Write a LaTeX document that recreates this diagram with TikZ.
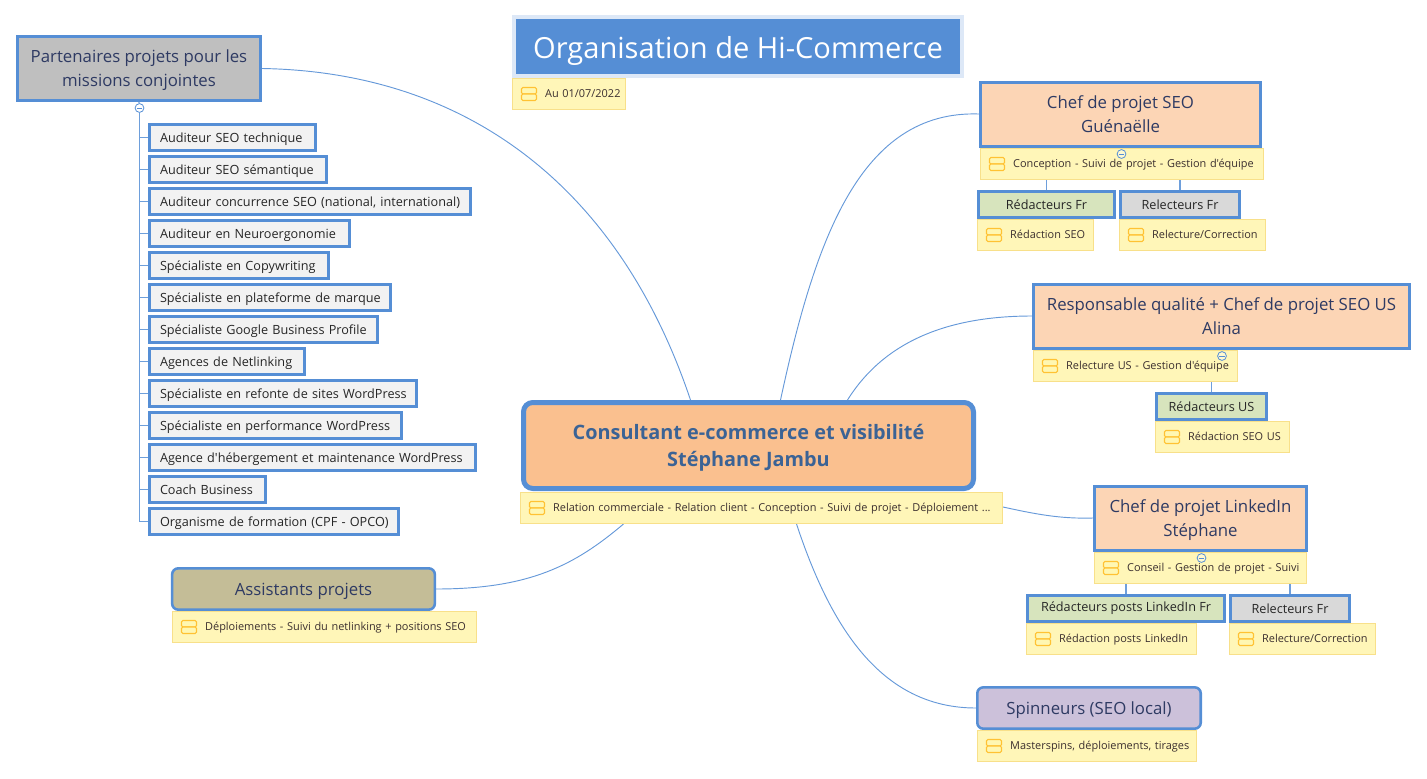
\documentclass[tikz,border=0pt]{standalone}
\usepackage{fontspec}
\setmainfont{Open Sans}[Ligatures=TeXOff]
\usepackage{xcolor}
\usetikzlibrary{calc,positioning}
\pgfdeclarelayer{background}
\pgfsetlayers{background,main}
\definecolor{accent}{HTML}{558ED5}
\definecolor{ink}{HTML}{2E3A63}
\definecolor{noteink}{HTML}{3B2F2F}
\definecolor{notefill}{HTML}{FFF6B8}
\definecolor{noteedge}{HTML}{F8E08A}
\definecolor{peach}{HTML}{FCD5B5}
\definecolor{apricot}{HTML}{FAC08F}
\definecolor{sage}{HTML}{D7E4BD}
\definecolor{khaki}{HTML}{C4BD97}
\definecolor{lilac}{HTML}{CCC1DA}

\begin{document}
\begin{tikzpicture}[x=0.75pt,y=-0.75pt,
    mainbox/.style={draw=accent,line width=2.25pt,minimum height=48pt,align=center,text depth=0pt,
                    text=ink,font=\fontsize{12.6}{18}\selectfont},
    softbox/.style={mainbox,line width=1.9pt,rounded corners=4.5pt,minimum height=31pt},
    subbox/.style={draw=accent,line width=2.25pt,minimum height=19.5pt,
                   text=black!85,font=\fontsize{9.5}{12}\selectfont},
    writer/.style={subbox,fill=sage},
    reviewer/.style={subbox,fill=black!15},
    listbox/.style={subbox,fill=black!5,anchor=west,inner xsep=0pt,inner ysep=0pt,
                    text width={(#1-3)*0.75pt},align=left,text height=9pt,text depth=1pt,
                    execute at begin node={\hspace*{7.875pt}}},
    note/.style={draw=noteedge,fill=notefill,line width=0.75pt,minimum height=23.25pt,
                 inner xsep=0pt,inner ysep=0pt,text width={(#1-1)*0.75pt},align=left,
                 text=noteink,font=\fontsize{8.2}{10}\selectfont,
                 text height=6.5pt,text depth=2pt,
                 execute at begin node={\hspace*{24.5pt}},
                 path picture={
                   \draw[noteicon] ([shift={(9,-6.5)}]path picture bounding box.west) rectangle ++(15,6.5);
                   \draw[noteicon] ([shift={(9,0)}]path picture bounding box.west) rectangle ++(15,6.5);
                 }},
    noteicon/.style={draw=orange!60!yellow!80!white,fill=orange!20!yellow!30!white,line width=0.8pt,rounded corners=1pt},
    link/.style={accent!90,line width=0.7pt},
    stem/.style={accent!85,line width=0.9pt},
    toggle/.style={circle,draw=accent,fill=white,fill opacity=0.35,minimum size=6.6pt,inner sep=0pt,line width=0.6pt,
                   path picture={\draw[accent,line width=0.6pt,fill opacity=1]
                     ([xshift=-2pt]path picture bounding box.center) -- ([xshift=2pt]path picture bounding box.center);}}
  ]
    \useasboundingbox (0,0) rectangle (1427,778);

    \node[draw=accent!20,line width=3pt,fill=accent,minimum width=336pt,minimum height=44.25pt,
          text=white,text height=18pt,text depth=0pt,font=\fontsize{21.8}{26}\selectfont] (title) at (738,46.5) {Organisation de Hi-Commerce};
    \node[note=114,anchor=north west] (titlenote) at (512,78) {Au 01/07/2022};

    \node[draw=accent,line width=3.75pt,rounded corners=7pt,fill=apricot,
          minimum width=337.5pt,minimum height=64.5pt,align=center,text depth=0pt,text=accent!70!black,
          font=\fontsize{14.9}{20}\selectfont\bfseries] (consultant) at (748.5,445.5)
          {Consultant e-commerce et visibilité\\Stéphane Jambu};
    \node[note=483,anchor=north west] (consultantnote) at (520,492)
          {Relation commerciale - Relation client - Conception - Suivi de projet - Déploiement ...};

    % left side: partners and their list
    \node[mainbox,fill=black!25,minimum width=182.25pt] (partners) at (139,68.5)
          {Partenaires projets pour les\\missions conjointes};
    \node[toggle] (partnerstoggle) at (139.5,108) {};
    \node[listbox=169,anchor=north west] (l1) at (148,123) {Auditeur SEO technique};
    \node[listbox=180,below=2.25pt of l1.south west,anchor=north west] (l2) {Auditeur SEO sémantique};
    \node[listbox=324,below=2.25pt of l2.south west,anchor=north west] (l3) {Auditeur concurrence SEO (national, international)};
    \node[listbox=203,below=2.25pt of l3.south west,anchor=north west] (l4) {Auditeur en Neuroergonomie};
    \node[listbox=182,below=2.25pt of l4.south west,anchor=north west] (l5) {Spécialiste en Copywriting};
    \node[listbox=244,below=2.25pt of l5.south west,anchor=north west] (l6) {Spécialiste en plateforme de marque};
    \node[listbox=231,below=2.25pt of l6.south west,anchor=north west] (l7) {Spécialiste Google Business Profile};
    \node[listbox=158,below=2.25pt of l7.south west,anchor=north west] (l8) {Agences de Netlinking};
    \node[listbox=270,below=2.25pt of l8.south west,anchor=north west] (l9) {Spécialiste en refonte de sites WordPress};
    \node[listbox=255,below=2.25pt of l9.south west,anchor=north west] (l10) {Spécialiste en performance WordPress};
    \node[listbox=329,below=2.25pt of l10.south west,anchor=north west] (l11) {Agence d'hébergement et maintenance WordPress};
    \node[listbox=119,below=2.25pt of l11.south west,anchor=north west] (l12) {Coach Business};
    \node[listbox=252,below=2.25pt of l12.south west,anchor=north west] (l13) {Organisme de formation (CPF - OPCO)};

    \node[softbox,fill=khaki,minimum width=197pt] (assistants) at (303.5,589) {Assistants projets};
    \node[note=305,anchor=north west] (assistantsnote) at (172,611) {Déploiements - Suivi du netlinking + positions SEO};

    % right side
    \node[mainbox,fill=peach,minimum width=210pt] (chefseo) at (1120.5,114) {Chef de projet SEO\\Guénaëlle};
    \node[note=284,anchor=north west] (chefseonote) at (980,148) {Conception - Suivi de projet - Gestion d'équipe};
    \node[writer,minimum width=102pt,anchor=north west] (redfr) at (977,190) {Rédacteurs Fr};
    \node[reviewer,minimum width=89.25pt,anchor=north west] (relfr) at (1119,190) {Relecteurs Fr};
    \node[note=117,below=0pt of redfr.south west,anchor=north west] (redfrnote) {Rédaction SEO};
    \node[note=147,below=0pt of relfr.south west,anchor=north west] (relfrnote) {Relecture/Correction};
    \node[toggle] (chefseotoggle) at (1121.5,154) {};

    \node[mainbox,fill=peach,minimum width=282pt] (quality) at (1221.5,316)
          {Responsable qualité + Chef de projet SEO US\\Alina};
    \node[note=205,anchor=north west] (qualitynote) at (1033,350) {Relecture US - Gestion d'équipe};
    \node[writer,minimum width=82.5pt,anchor=north west] (redus) at (1155,392) {Rédacteurs US};
    \node[note=135,below=0pt of redus.south west,anchor=north west] (redusnote) {Rédaction SEO US};
    \node[toggle] (qualitytoggle) at (1222,356) {};

    \node[mainbox,fill=peach,minimum width=159pt] (chefli) at (1200.5,518) {Chef de projet LinkedIn\\Stéphane};
    \node[note=213,anchor=north west] (chefli note) at (1094,552) {Conseil - Gestion de projet - Suivi};
    \node[writer,minimum width=147.75pt,anchor=north west] (redli) at (1026,594) {Rédacteurs posts LinkedIn Fr};
    \node[reviewer,minimum width=89.25pt,anchor=north west] (relli) at (1229,594) {Relecteurs Fr};
    \node[note=171,below=0pt of redli.south west,anchor=north west] (redlinote) {Rédaction posts LinkedIn};
    \node[note=147,below=0pt of relli.south west,anchor=north west] (rellinote) {Relecture/Correction};
    \node[toggle] (chefli toggle) at (1201.5,558) {};

    \node[softbox,fill=lilac,minimum width=167.6pt] (spinners) at (1089,708) {Spinneurs (SEO local)};
    \node[note=220,anchor=north west] (spinnersnote) at (977,730) {Masterspins, déploiements, tirages};

    \begin{pgfonlayer}{background}
      % branches out of the central box
      \draw[link] (partners.east) .. controls (470,72) and (620,190) .. ($(consultant.north)+(-58,0)$);
      \draw[link] (chefseo.west) .. controls (860,110) and (815,240) .. ($(consultant.north)+(32,0)$);
      \draw[link] (quality.west) .. controls (950,316) and (885,340) .. ($(consultant.north)+(99,0)$);
      \draw[link] ($(consultantnote.east)+(0,-1)$) .. controls (1035,514) and (1060,519) .. (chefli.west);
      \draw[link] (assistants.east) .. controls (530,589) and (575,565) .. ($(consultantnote.south)+(-138,0)$);
      \draw[link] ($(consultantnote.south)+(35,0)$) .. controls (830,625) and (880,708) .. (spinners.west);
      % list and sub-topic stems
      \draw[stem] (partners.south) -- (partnerstoggle);
      \draw[stem] (partnerstoggle) |- (l1.west);
      \draw[stem] (partnerstoggle) |- (l2.west);
      \draw[stem] (partnerstoggle) |- (l3.west);
      \draw[stem] (partnerstoggle) |- (l4.west);
      \draw[stem] (partnerstoggle) |- (l5.west);
      \draw[stem] (partnerstoggle) |- (l6.west);
      \draw[stem] (partnerstoggle) |- (l7.west);
      \draw[stem] (partnerstoggle) |- (l8.west);
      \draw[stem] (partnerstoggle) |- (l9.west);
      \draw[stem] (partnerstoggle) |- (l10.west);
      \draw[stem] (partnerstoggle) |- (l11.west);
      \draw[stem] (partnerstoggle) |- (l12.west);
      \draw[stem] (partnerstoggle) |- (l13.west);
      \draw[stem] (redfr.north) -- (redfr.north |- chefseonote.south);
      \draw[stem] (relfr.north) -- (relfr.north |- chefseonote.south);
      \draw[stem] (redus.north) -- (redus.north |- qualitynote.south);
      \draw[stem] (redli.north) -- (redli.north |- chefli note.south);
      \draw[stem] (relli.north) -- (relli.north |- chefli note.south);
    \end{pgfonlayer}
  \end{tikzpicture}
\end{document}
